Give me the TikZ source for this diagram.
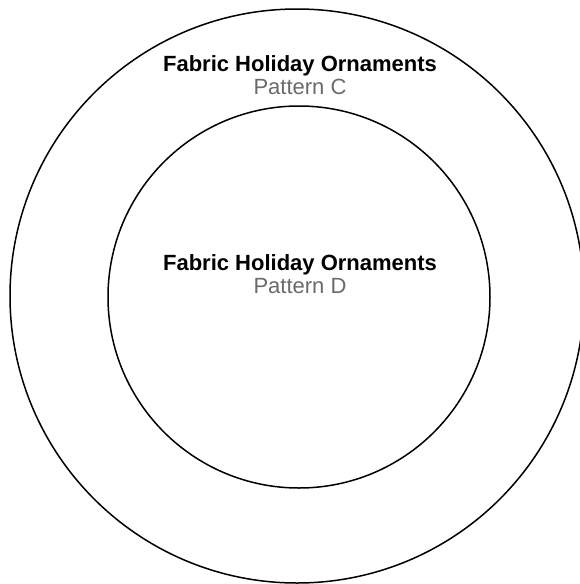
\documentclass[tikz,border=0pt]{standalone}
\usepackage{fontspec}
\setmainfont{Liberation Sans}
\usepackage{xcolor}
\usetikzlibrary{positioning}

\definecolor{subgray}{HTML}{6A6A6A}

\begin{document}
\begin{tikzpicture}[x=1pt, y=-1pt,
  ring/.style={circle, draw=black, line width=1.5pt, inner sep=0pt},
  title/.style={anchor=base, font=\fontsize{22}{24}\selectfont\bfseries, text=black, inner sep=0pt},
  pattern/.style={anchor=base, font=\fontsize{22}{24}\selectfont, text=subgray, inner sep=0pt}]
  \useasboundingbox (0,0) rectangle (580,584);
  % Rings
  \node[ring, minimum size=574pt] (outer) at (297,296) {};
  \node[ring, minimum size=382pt] (inner) at (299,297) {};
  % Outer ring label
  \node[title]   (cTitle)   at (300,71) {Fabric Holiday Ornaments};
  \node[pattern] (cPattern) at (300,94) {Pattern C};
  % Inner ring label
  \node[title]   (dTitle)   at (300,270) {Fabric Holiday Ornaments};
  \node[pattern] (dPattern) at (300,293) {Pattern D};
\end{tikzpicture}
\end{document}
